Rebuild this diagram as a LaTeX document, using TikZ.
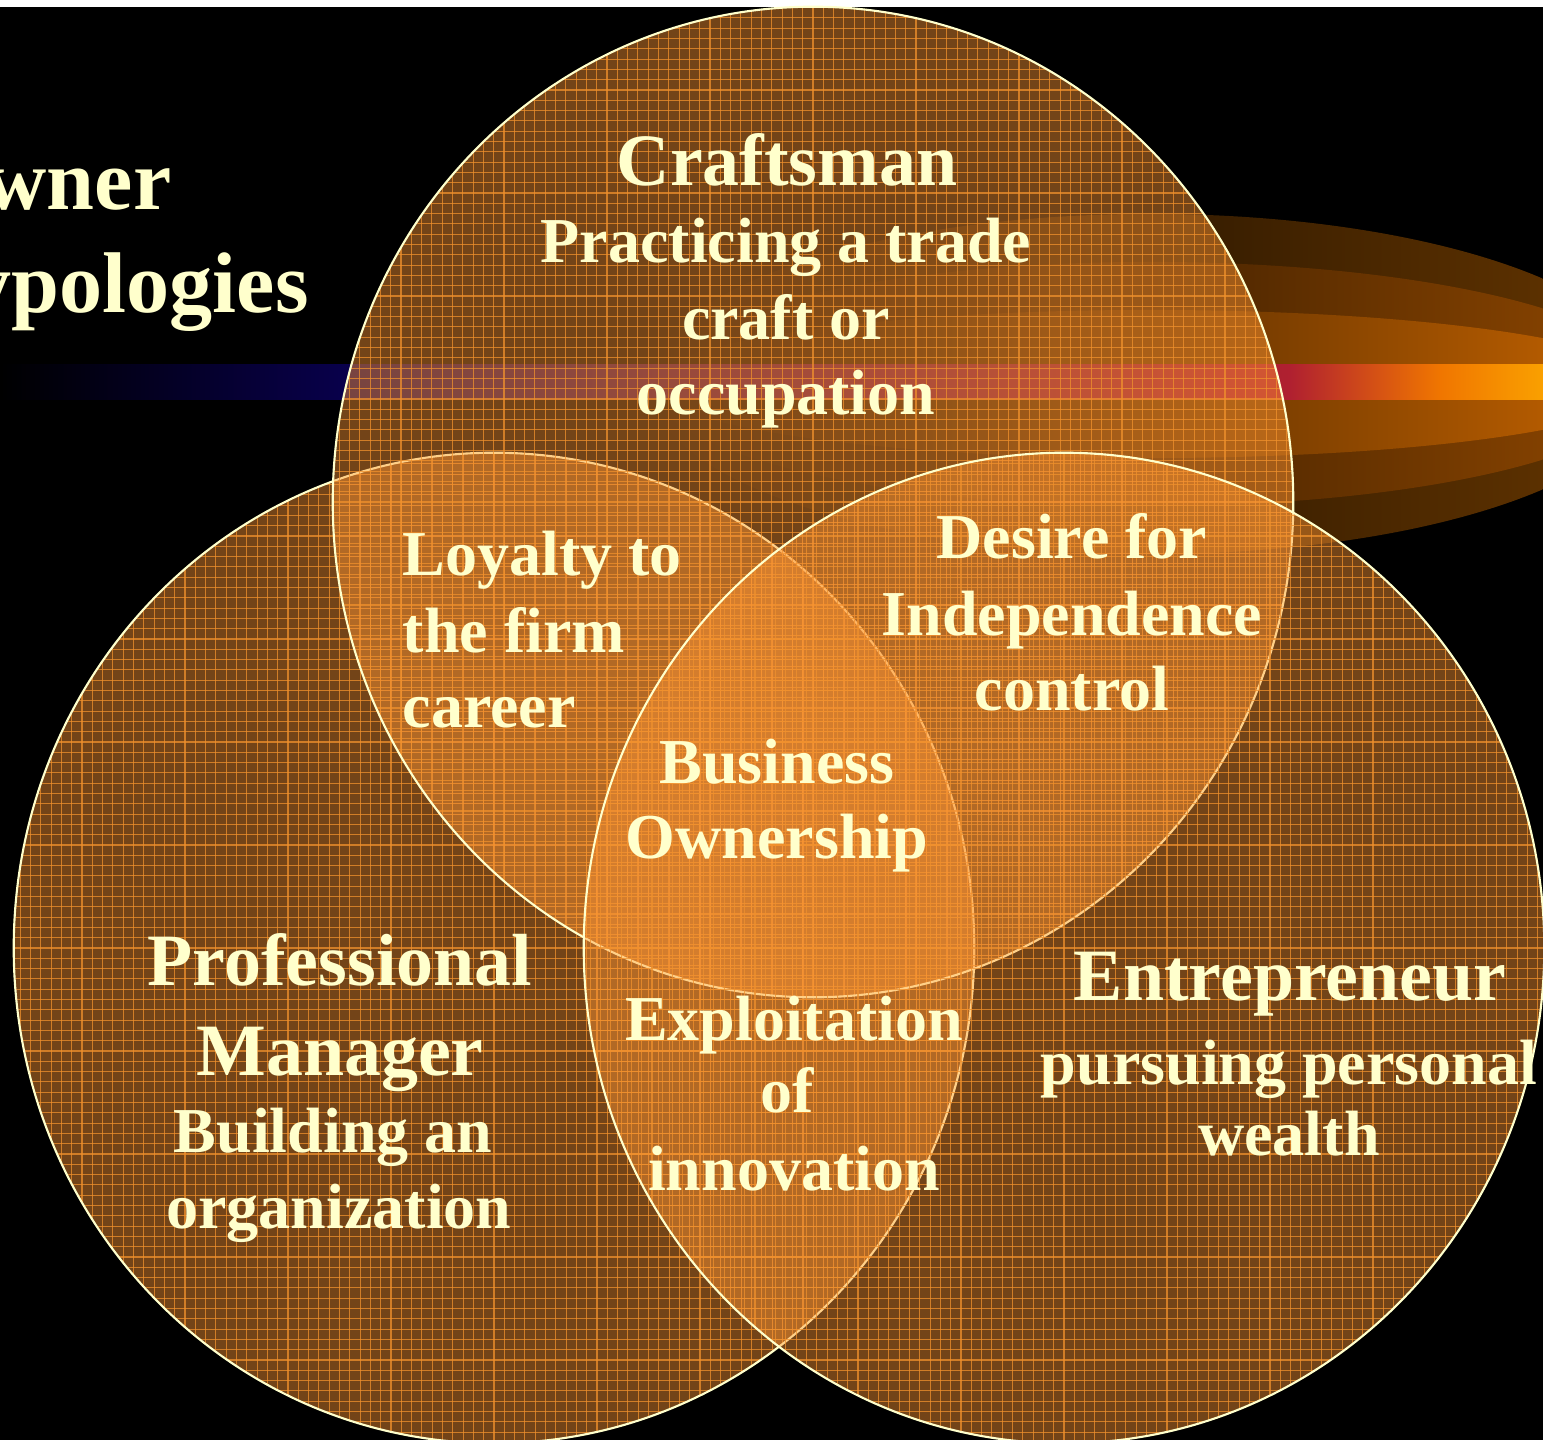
\documentclass[tikz,border=0pt]{standalone}
\usepackage{fontspec}
\setmainfont{Liberation Serif}
\definecolor{cream}{RGB}{255,255,204}
\definecolor{vfill}{RGB}{255,151,55}
\definecolor{gridc}{RGB}{240,145,45}
\definecolor{navyb}{RGB}{8,0,74}
\definecolor{crim}{RGB}{176,32,48}
\definecolor{orng}{RGB}{240,118,0}
\definecolor{yorng}{RGB}{250,160,0}
\definecolor{swAr}{RGB}{102,54,0}
\definecolor{swBr}{RGB}{145,72,0}
\definecolor{swCr}{RGB}{200,101,0}
\newcommand\VennDisc[2]{%
  \begin{scope}
    \clip (#1,#2) ellipse [x radius=4.8cm, y radius=4.95cm];
    \fill[venn] (#1,#2) ellipse [x radius=4.8cm, y radius=4.95cm];
    \foreach \k in {-48,...,48} {
      \draw[gridl] ({#1+\k*10.3},{#2-500}) -- ({#1+\k*10.3},{#2+500});
      \draw[gridl] ({#1-490},{#2+\k*10.3}) -- ({#1+490},{#2+\k*10.3});
    }
  \end{scope}
  \draw[vennborder] (#1,#2) ellipse [x radius=4.8cm, y radius=4.95cm];
}
\newcommand\SwooshLayer[2]{%
  \shade[left color=black, right color=#2]
    (1150,384) ellipse [x radius=5cm, y radius=#1];
}
\begin{document}
\begin{tikzpicture}[x={(0.01cm,0)}, y={(0,-0.01cm)},
  venn/.style={fill=vfill, fill opacity=0.45},
  vennborder/.style={draw=cream, line width=0.6pt},
  gridl/.style={draw=gridc, line width=0.3pt, draw opacity=0.75},
  head/.style={text=cream, font=\fontsize{21}{25}\selectfont\bfseries, anchor=base, inner sep=0pt},
  body/.style={text=cream, font=\fontsize{18.2}{22}\selectfont\bfseries, anchor=base, inner sep=0pt},
  bodyl/.style={body, anchor=base west},
  ttl/.style={text=cream, font=\fontsize{24.5}{29}\selectfont\bfseries, anchor=base west, inner sep=0pt}]
\useasboundingbox (0,0) rectangle (1543,1440);
\clip (0,0) rectangle (1543,1440);
\fill[black] (0,0) rectangle (1543,1440);
\fill[white] (0,0) rectangle (1543,7);
% swoosh on the right
\SwooshLayer{1.70cm}{swAr}
\SwooshLayer{1.22cm}{swBr}
\SwooshLayer{0.74cm}{swCr}
% horizontal bar
\shade[left color=black, right color=navyb] (0,365) rectangle (340,400);
\shade[left color=navyb, right color=crim] (340,365) rectangle (1290,400);
\shade[left color=crim, right color=orng] (1290,365) rectangle (1440,400);
\shade[left color=orng, right color=yorng] (1440,365) rectangle (1543,400);
% circles
\VennDisc{494}{948}
\VennDisc{813}{502}
\VennDisc{1064}{948}
% title
\node[ttl] (t1) at (-83,210) {Owner};
\node[ttl] (t2) at (-83,313) {Typologies};
% craftsman
\node[head] (c1) at (787,186) {Craftsman};
\node[body] (c2) at (786,263) {Practicing a trade};
\node[body] (c3) at (786,340) {craft or};
\node[body] (c4) at (786,415) {occupation};
% loyalty
\node[bodyl] (l1) at (402,575) {Loyalty to};
\node[bodyl] (l2) at (402,652) {the firm};
\node[bodyl] (l3) at (402,727) {career};
% desire
\node[body] (d1) at (1072,558) {Desire for};
\node[body] (d2) at (1072,635) {Independence};
\node[body] (d3) at (1072,710) {control};
% business
\node[body] (b1) at (777,783) {Business};
\node[body] (b2) at (777,858) {Ownership};
% professional manager
\node[head] (p1) at (340,985) {Professional};
\node[head] (p2) at (340,1075) {Manager};
\node[body] (p3) at (333,1152) {Building an};
\node[body] (p4) at (339,1228) {organization};
% exploitation
\node[body] (e1) at (794,1040) {Exploitation};
\node[body] (e2) at (787,1112) {of};
\node[body] (e3) at (794,1190) {innovation};
% entrepreneur
\node[head] (n1) at (1290,1000) {Entrepreneur};
\node[body] (n2) at (1289,1084) {pursuing personal};
\node[body] (n3) at (1289,1155) {wealth};
\end{tikzpicture}
\end{document}
